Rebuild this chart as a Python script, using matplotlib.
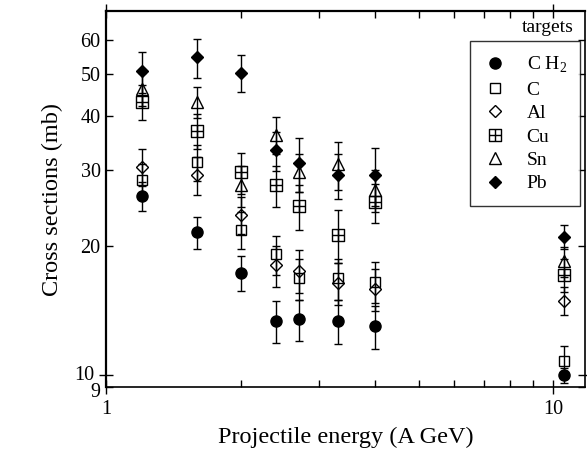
import matplotlib
matplotlib.use("Agg")
import matplotlib.pyplot as plt
import matplotlib.transforms as mtransforms
from matplotlib.lines import Line2D
from matplotlib.path import Path

plt.rcParams.update({
    "font.family": "Liberation Serif",
    "font.size": 14,
    "mathtext.fontset": "custom",
    "mathtext.rm": "Liberation Serif",
})

# projectile energies (A GeV)
energy = [1.2, 1.6, 2.0, 2.4, 2.7, 3.3, 4.0, 10.6]

# cross sections (mb) and errors per target
ch2 = [26.1, 21.5, 17.3, 13.4, 13.5, 13.4, 13.0, 10.0]
ch2_err = [2.0, 1.8, 1.6, 1.5, 1.5, 1.6, 1.5, 0.4]
c = [28.4, 31.2, 21.8, 19.1, 16.8, 16.8, 16.5, 10.8]
c_err = [2.5, 3.0, 2.2, 2.0, 1.8, 1.8, 1.8, 0.9]
al = [30.5, 29.2, 23.6, 18.0, 17.5, 16.4, 15.9, 14.9]
al_err = [3.0, 3.0, 2.3, 2.0, 2.0, 1.8, 1.8, 1.1]
cu = [43.1, 37.0, 29.6, 27.6, 24.7, 21.2, 25.2, 17.1]
cu_err = [4.0, 3.5, 3.2, 3.0, 3.0, 3.0, 2.6, 1.5]
sn = [46.2, 43.1, 27.6, 36.2, 29.7, 30.9, 27.0, 18.4]
sn_err = [4.0, 3.6, 3.0, 3.5, 3.0, 3.9, 3.0, 1.5]
pb = [50.8, 54.8, 50.4, 33.3, 31.1, 29.2, 29.2, 21.0]
pb_err = [5.5, 5.7, 5.0, 3.5, 4.4, 3.5, 4.5, 1.4]

labels = ["C H$_2$", "C", "Al", "Cu", "Sn", "Pb"]

# square with a cross inside (boxed plus)
box_plus = Path(
    [(-1, -1), (1, -1), (1, 1), (-1, 1), (-1, -1),
     (0, -1), (0, 1), (-1, 0), (1, 0)],
    [Path.MOVETO, Path.LINETO, Path.LINETO, Path.LINETO, Path.CLOSEPOLY,
     Path.MOVETO, Path.LINETO, Path.MOVETO, Path.LINETO])

styles = [
    dict(marker="o", mfc="black", ms=8),
    dict(marker="s", mfc="none", ms=7.5),
    dict(marker="D", mfc="none", ms=6),
    dict(marker=box_plus, mfc="none", ms=8),
    dict(marker="^", mfc="none", ms=8),
    dict(marker="D", mfc="black", ms=6.5),
]
series = [(ch2, ch2_err), (c, c_err), (al, al_err),
          (cu, cu_err), (sn, sn_err), (pb, pb_err)]

fig = plt.figure(figsize=(5.87, 4.68), dpi=100)
ax = fig.add_axes([0.181, 0.173, 0.816, 0.803])

for (vals, errs), st in zip(series, styles):
    ax.errorbar(energy, vals, yerr=errs, fmt="none", ecolor="black",
                elinewidth=1.0, capsize=3, capthick=1.0)
    ax.plot(energy, vals, ls="none", color="black", mec="black", mew=1.0, **st)

ax.set_xscale("log")
ax.set_yscale("log")
ax.set_xlim(1, 11.8)
ax.set_ylim(9.4, 70)

ax.set_xticks([1, 10], ["1", "10"])
ax.set_xticks([2, 3, 4, 5, 6, 7, 8, 9], [""] * 8, minor=True)
ax.set_yticks([10], ["10"])
ax.set_yticks([9.4, 20, 30, 40, 50, 60], ["9", "20", "30", "40", "50", "60"],
              minor=True)
ax.tick_params(which="major", direction="inout", length=10, width=1,
               top=True, right=True, labelsize=14.5)
ax.tick_params(which="minor", direction="in", length=5, width=1,
               top=True, right=True, labelsize=14.5)
ax.tick_params(axis="y", which="minor", pad=4)
ax.tick_params(axis="x", which="major", pad=4)

# nudge the crowded "10" / "9" labels apart a little
fig.canvas.draw()
ax.get_yticklabels()[0].set_transform(
    ax.get_yticklabels()[0].get_transform()
    + mtransforms.ScaledTranslation(0, 2 / 100, fig.dpi_scale_trans))
nine = ax.get_yticklabels(minor=True)[0]
nine.set_transform(nine.get_transform()
                   + mtransforms.ScaledTranslation(0, -3 / 100, fig.dpi_scale_trans))

for sp in ax.spines.values():
    sp.set_linewidth(1.2)
ax.spines["left"].set_linewidth(1.6)
ax.spines["top"].set_linewidth(1.6)

ax.set_xlabel("Projectile energy (A GeV)", fontsize=17.5, labelpad=6)
ax.set_ylabel("Cross sections (mb)", fontsize=17.5, labelpad=8)

handles = [Line2D([], [], ls="none", color="black", mec="black", mew=1.0, **st)
           for st in styles]
leg = ax.legend(handles, labels, loc="upper right", bbox_to_anchor=(0.99, 0.92),
                frameon=True, fancybox=False, edgecolor="black", fontsize=14,
                handlelength=1.2, handletextpad=1.0, labelspacing=0.3,
                borderpad=0.7, borderaxespad=0)
leg.get_frame().set_linewidth(1.0)
ax.text(0.921, 0.958, "targets", transform=ax.transAxes, ha="center",
        va="center", fontsize=14)

fig.savefig("out.png", dpi=100)
